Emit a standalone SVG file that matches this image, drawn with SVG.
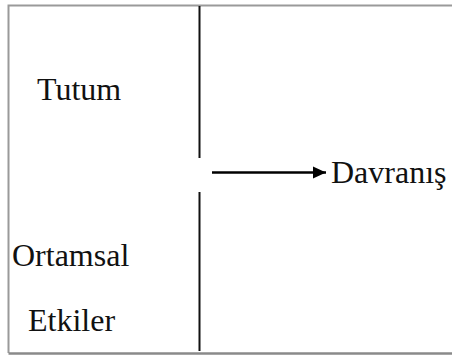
<svg xmlns="http://www.w3.org/2000/svg" width="452" height="356" viewBox="0 0 452 356">
<style>
  .lbl { font-family: "Liberation Serif", "Times New Roman", serif; font-size: 32px; fill: #111; }
  .frame { fill: none; stroke: #9a9a9a; stroke-width: 2; }
  .div { stroke: #111; stroke-width: 2; fill: none; }
  .conn { stroke: #000; stroke-width: 2.5; fill: none; }
</style>
<defs>
  <marker id="ah" markerWidth="14" markerHeight="14" refX="13" refY="7" orient="auto" markerUnits="userSpaceOnUse">
    <path d="M0,1 L13,7 L0,13 Z" fill="#000"/>
  </marker>
</defs>
<g id="frame">
  <path class="frame" d="M454,5.5 H8.5 V353"/>
  <path d="M8.5,353.5 H454" stroke="#8a8a8a" stroke-width="2.5" fill="none"/>
  <path class="div" d="M199.5,6 V158 M199.5,192 V351"/>
</g>
<g id="node-tutum"><text class="lbl" x="37" y="100">Tutum</text></g>
<g id="node-ortamsal"><text class="lbl" x="12" y="266">Ortamsal</text><text class="lbl" x="28" y="331">Etkiler</text></g>
<g id="node-davranis"><text class="lbl" x="331" y="183">Davranış</text></g>
<g id="connectors">
  <path class="conn" d="M212,172.5 H326" marker-end="url(#ah)"/>
</g>
</svg>
